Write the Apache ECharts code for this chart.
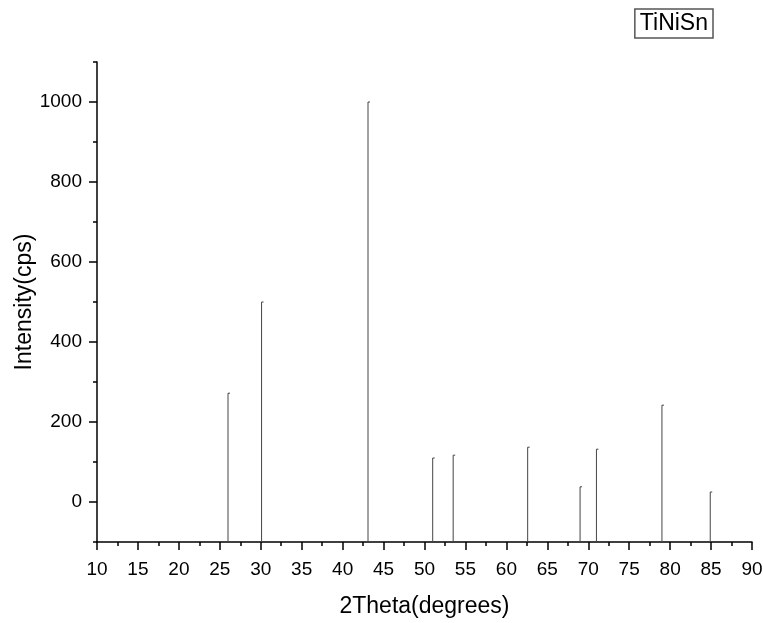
<!doctype html>
<html>
<head>
<meta charset="utf-8">
<script src="https://cdn.jsdelivr.net/npm/echarts@6/dist/echarts.min.js"></script>
<style>
  html, body { margin: 0; padding: 0; background: #fff; }
  #main { width: 763px; height: 623px; }
</style>
</head>
<body>
<div id="main"></div>
<script>
// peak positions (2theta) and intensities
var peakPos = [26.0, 30.1, 43.1, 51.0, 53.5, 62.6, 69.0, 71.0, 79.0, 84.9];
var peakInt = [272, 500, 1000, 110, 117, 137, 38, 132, 242, 25];
var yMajor = [0, 200, 400, 600, 800, 1000];
var yMinor = [-100, 100, 300, 500, 700, 900, 1100];
var seriesName = 'TiNiSn';

var font = "'Liberation Sans', Arial, sans-serif";
var data = [];
for (var i = 0; i < peakPos.length; i++) {
    data.push([peakPos[i], peakInt[i]]);
}

var myChart = echarts.init(document.getElementById('main'));
myChart.setOption({
    animation: false,
    textStyle: { fontFamily: font },
    grid: { left: 97, right: 11, top: 62, bottom: 81, outerBoundsMode: 'none' },
    legend: {
        data: [seriesName],
        right: 50,
        top: 9,
        icon: 'none',
        itemWidth: 0,
        itemHeight: 10,
        padding: [3, 5, 3, 0],
        borderColor: '#555',
        borderWidth: 1.5,
        textStyle: { fontSize: 23, color: '#000', fontFamily: font }
    },
    xAxis: {
        type: 'value',
        min: 10,
        max: 90,
        interval: 5,
        name: '2Theta(degrees)',
        nameLocation: 'middle',
        nameGap: 53,
        nameMoveOverlap: false,
        nameTextStyle: { fontSize: 23, color: '#000', fontFamily: font },
        axisLine: { onZero: false, lineStyle: { color: '#000', width: 1.5 } },
        axisTick: { length: 8, lineStyle: { color: '#000', width: 1.5 } },
        minorTick: { show: true, splitNumber: 2, length: 4, lineStyle: { color: '#000', width: 1.5 } },
        axisLabel: { fontSize: 19, color: '#000', margin: 18, fontFamily: font },
        splitLine: { show: false }
    },
    yAxis: [{
        type: 'value',
        min: -100,
        max: 1100,
        position: 'left',
        name: 'Intensity(cps)',
        nameLocation: 'middle',
        nameGap: 61,
        nameMoveOverlap: false,
        nameTextStyle: { fontSize: 23, color: '#000', fontFamily: font },
        axisLine: { show: true, onZero: false, lineStyle: { color: '#000', width: 1.5 } },
        axisTick: { show: true, customValues: yMajor, length: 8, lineStyle: { color: '#000', width: 1.5 } },
        axisLabel: {
            customValues: yMajor, fontSize: 19, color: '#000', margin: 15, fontFamily: font,
            formatter: function (v) { return String(v); }
        },
        splitLine: { show: false }
    }, {
        // minor ticks only
        type: 'value',
        min: -100,
        max: 1100,
        position: 'left',
        offset: 0,
        axisLine: { show: false },
        axisTick: { show: true, customValues: yMinor, length: 4, lineStyle: { color: '#000', width: 1.5 } },
        axisLabel: { show: false },
        splitLine: { show: false }
    }],
    series: [{
        name: seriesName,
        type: 'custom',
        xAxisIndex: 0,
        yAxisIndex: 0,
        data: data,
        itemStyle: { color: '#444' },
        renderItem: function (params, api) {
            var base = api.coord([api.value(0), -100]);
            var top = api.coord([api.value(0), api.value(1)]);
            return {
                type: 'polyline',
                shape: { points: [[base[0], base[1]], [top[0], top[1]], [top[0] + 2, top[1]]] },
                style: { stroke: '#444', lineWidth: 1, fill: null }
            };
        }
    }]
});
</script>
</body>
</html>
